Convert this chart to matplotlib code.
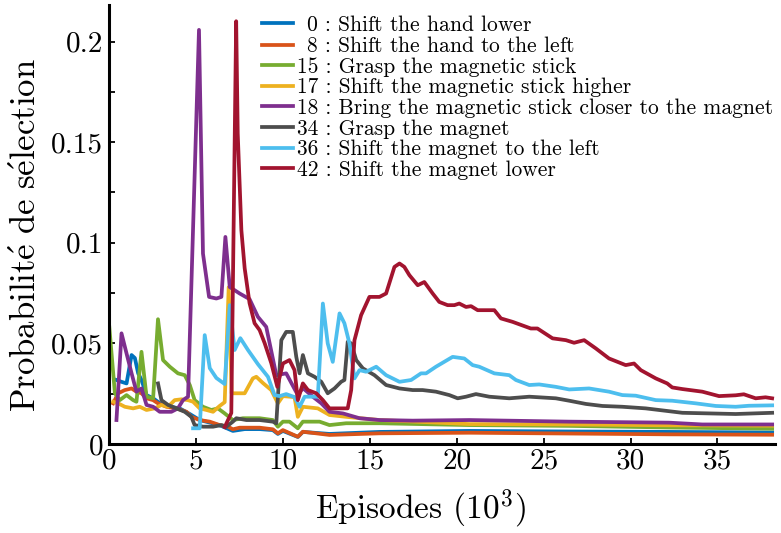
import matplotlib
matplotlib.use("Agg")
import matplotlib.pyplot as plt

plt.rcParams['font.family'] = 'serif'
plt.rcParams['font.serif'] = ['cmr10']
plt.rcParams['mathtext.fontset'] = 'cm'
plt.rcParams['axes.formatter.use_mathtext'] = True

# action 0 : shift the hand lower
x0 = [0.41, 0.70, 0.99, 1.28, 1.47, 1.66, 1.85, 2.14, 2.52, 2.90, 3.48, 4.05, 4.63, 5.20, 5.89,
      6.47, 7.11, 7.79, 8.65, 9.41, 9.70, 9.99, 10.85, 11.14, 12.67, 15.55, 20.72, 26.47, 32.21, 38.15]
y0 = [0.0318, 0.0309, 0.0301, 0.0442, 0.0427, 0.0351, 0.0318, 0.0243, 0.0227, 0.0203, 0.0185, 0.0177,
      0.0149, 0.0119, 0.0104, 0.0089, 0.0065, 0.0074, 0.0074, 0.0069, 0.0050, 0.0065, 0.0035, 0.0060,
      0.0050, 0.0060, 0.0065, 0.0062, 0.0060, 0.0057]

# action 8 : shift the hand to the left
x8 = [0.22, 0.51, 0.89, 1.28, 1.56, 1.85, 2.14, 2.52, 2.80, 3.29, 3.86, 4.44, 4.72, 5.20, 5.78,
      6.35, 6.83, 7.11, 7.50, 8.65, 9.41, 9.70, 9.99, 10.85, 11.14, 12.67, 15.55, 20.72, 26.47, 32.21, 38.15]
y8 = [0.0202, 0.0252, 0.0268, 0.0276, 0.0260, 0.0252, 0.0227, 0.0218, 0.0202, 0.0185, 0.0177, 0.0160,
      0.0135, 0.0119, 0.0111, 0.0094, 0.0086, 0.0073, 0.0081, 0.0081, 0.0073, 0.0053, 0.0069, 0.0036,
      0.0061, 0.0045, 0.0053, 0.0056, 0.0052, 0.0048, 0.0046]

# action 15 : grasp the magnetic stick
x15 = [0.0, 0.32, 0.60, 0.99, 1.37, 1.56, 1.85, 2.14, 2.52, 2.80, 3.09, 3.48, 3.95, 4.34, 4.63, 4.91,
       5.39, 5.87, 6.25, 6.64, 7.11, 7.69, 8.65, 9.41, 9.70, 9.99, 10.37, 10.85, 11.14, 12.10, 12.67,
       13.63, 15.55, 20.72, 26.47, 32.21, 38.15]
y15 = [0.058, 0.0252, 0.0218, 0.0243, 0.0218, 0.0210, 0.0458, 0.0235, 0.0227, 0.062, 0.0417, 0.0384,
       0.0351, 0.0342, 0.0293, 0.0218, 0.0185, 0.0169, 0.0177, 0.0152, 0.0119, 0.0128, 0.0128, 0.0119,
       0.0086, 0.0111, 0.0111, 0.0078, 0.0111, 0.0111, 0.0094, 0.0103, 0.0103, 0.0094, 0.0090, 0.0082,
       0.0076]

# action 17 : shift the magnetic stick higher
x17 = [0.22, 0.51, 0.89, 1.37, 1.75, 2.14, 2.61, 3.00, 3.38, 3.76, 4.15, 4.53, 4.82, 5.20, 5.59, 5.97,
       6.35, 6.64, 6.87, 7.04, 7.79, 8.26, 8.46, 8.84, 9.32, 9.70, 9.99, 10.66, 10.85, 11.14, 12.00,
       12.67, 13.63, 15.55, 20.72, 26.47, 32.21, 38.15]
y17 = [0.0210, 0.0202, 0.0185, 0.0177, 0.0185, 0.0169, 0.0177, 0.0194, 0.0185, 0.0218, 0.0222, 0.0218,
       0.0210, 0.0177, 0.0169, 0.0160, 0.0189, 0.0208, 0.0779, 0.0252, 0.0252, 0.0326, 0.0334, 0.0303,
       0.0268, 0.0202, 0.0238, 0.0233, 0.0135, 0.0185, 0.0177, 0.0144, 0.0135, 0.0119, 0.0099, 0.0097,
       0.0093, 0.0091]

# action 18 : bring the magnetic stick closer to the magnet
x18 = [0.41, 0.70, 0.99, 1.28, 1.56, 1.85, 2.14, 2.52, 2.90, 3.57, 3.95, 4.24, 4.53, 5.16, 5.39, 5.74,
       6.16, 6.45, 6.68, 6.93, 7.50, 8.07, 8.55, 9.03, 9.61, 10.18, 10.85, 11.14, 11.71, 12.20, 12.67,
       13.44, 14.40, 15.55, 17.46, 20.72, 26.46, 32.21, 34.13, 38.15]
y18 = [0.0119, 0.055, 0.0450, 0.0351, 0.0260, 0.0276, 0.0194, 0.0185, 0.0160, 0.0160, 0.0177, 0.0218,
       0.0235, 0.2058, 0.0946, 0.0731, 0.0723, 0.0731, 0.1029, 0.0780, 0.0748, 0.0720, 0.0632, 0.0582,
       0.0342, 0.0351, 0.0243, 0.0278, 0.0235, 0.0202, 0.0160, 0.0152, 0.0128, 0.0119, 0.0116, 0.0119,
       0.0111, 0.0106, 0.0097, 0.0097]

# action 34 : grasp the magnet
x34 = [2.80, 3.00, 3.38, 3.86, 4.34, 4.72, 4.91, 5.39, 5.97, 6.45, 6.74, 7.11, 7.31, 7.89, 8.65, 9.41,
       9.61, 9.90, 10.18, 10.56, 10.76, 10.95, 11.14, 11.43, 11.81, 12.20, 12.57, 12.96, 13.34, 13.53,
       13.72, 13.92, 14.21, 14.59, 15.26, 15.93, 16.70, 17.46, 18.03, 18.80, 19.57, 20.05, 20.53, 21.10,
       21.87, 23.02, 24.17, 25.70, 26.47, 27.43, 28.38, 29.53, 30.87, 32.02, 32.98, 34.51, 36.05, 38.15]
y34 = [0.0301, 0.0218, 0.0194, 0.0177, 0.0160, 0.0135, 0.0094, 0.0086, 0.0086, 0.0094, 0.0086, 0.0111,
       0.0128, 0.0119, 0.0119, 0.0111, 0.0103, 0.0516, 0.0557, 0.0557, 0.0433, 0.0351, 0.0442, 0.0351,
       0.0334, 0.0309, 0.0252, 0.0276, 0.0309, 0.0318, 0.0508, 0.0500, 0.0417, 0.0376, 0.0342, 0.0293,
       0.0276, 0.0268, 0.0268, 0.0260, 0.0243, 0.0227, 0.0235, 0.0248, 0.0235, 0.0227, 0.0235, 0.0227,
       0.0215, 0.0199, 0.0189, 0.0185, 0.0177, 0.0165, 0.0155, 0.0152, 0.0149, 0.0155]

# action 36 : shift the magnet to the left
x36 = [4.82, 5.20, 5.49, 5.78, 6.16, 6.64, 6.93, 7.21, 7.54, 7.98, 8.55, 9.13, 9.51, 9.80, 10.18, 10.66,
       10.95, 11.24, 12.00, 12.29, 12.57, 12.86, 13.25, 13.53, 13.82, 14.11, 14.40, 14.78, 15.36, 15.93,
       16.70, 17.37, 17.94, 18.23, 18.80, 19.76, 20.43, 20.91, 21.29, 22.16, 23.02, 23.40, 24.17, 24.74,
       25.70, 26.47, 27.61, 28.76, 29.53, 30.30, 31.45, 32.40, 33.75, 34.90, 36.05, 36.81, 38.15]
y36 = [0.0078, 0.0078, 0.0541, 0.0377, 0.0328, 0.0298, 0.0690, 0.0467, 0.0526, 0.0467, 0.0397, 0.0334,
       0.0243, 0.0238, 0.0248, 0.0233, 0.0185, 0.0235, 0.0235, 0.0698, 0.0500, 0.0408, 0.0649, 0.0600,
       0.0500, 0.0326, 0.0367, 0.0359, 0.0384, 0.0342, 0.0309, 0.0318, 0.0351, 0.0351, 0.0384, 0.0433,
       0.0425, 0.0392, 0.0384, 0.0351, 0.0342, 0.0318, 0.0293, 0.0296, 0.0284, 0.0271, 0.0276, 0.0260,
       0.0243, 0.0240, 0.0218, 0.0215, 0.0202, 0.0189, 0.0185, 0.0190, 0.0192]

# action 42 : shift the magnet lower
x42 = [6.64, 7.02, 7.30, 7.39, 7.60, 7.79, 8.07, 8.36, 8.65, 8.94, 9.32, 9.67, 9.99, 10.37, 10.66, 10.85,
       11.14, 11.43, 11.91, 12.29, 12.67, 13.25, 13.72, 13.92, 14.11, 14.49, 14.97, 15.55, 15.93, 16.41,
       16.70, 16.98, 17.27, 17.75, 18.13, 18.61, 18.99, 19.47, 19.86, 20.14, 20.53, 20.82, 21.20, 22.16,
       22.54, 23.21, 24.26, 24.64, 25.51, 26.28, 26.75, 27.33, 28.00, 28.76, 29.72, 30.20, 30.59, 31.45,
       32.11, 32.40, 32.98, 34.13, 35.09, 36.05, 36.52, 37.20, 37.77, 38.15]
y42 = [0.0084, 0.0154, 0.2101, 0.1543, 0.1062, 0.0873, 0.0700, 0.0600, 0.0566, 0.0501, 0.0402, 0.0284,
       0.0400, 0.0417, 0.0367, 0.0218, 0.0301, 0.0268, 0.0252, 0.0218, 0.0177, 0.0177, 0.0177, 0.0268,
       0.0516, 0.0640, 0.0731, 0.0731, 0.0748, 0.0880, 0.0897, 0.0880, 0.0839, 0.0789, 0.0805, 0.0748,
       0.0706, 0.0690, 0.0690, 0.0698, 0.0681, 0.0685, 0.0665, 0.0665, 0.0624, 0.0607, 0.0574, 0.0574,
       0.0525, 0.0516, 0.0503, 0.0516, 0.0475, 0.0425, 0.0392, 0.0400, 0.0367, 0.0326, 0.0301, 0.0281,
       0.0273, 0.0260, 0.0238, 0.0242, 0.0247, 0.0227, 0.0232, 0.0227]

labels = [r'$\ \,$0 : Shift the hand lower',
          r'$\ \,$8 : Shift the hand to the left',
          '15 : Grasp the magnetic stick',
          '17 : Shift the magnetic stick higher',
          '18 : Bring the magnetic stick closer to the magnet',
          '34 : Grasp the magnet',
          '36 : Shift the magnet to the left',
          '42 : Shift the magnet lower']
colors = ['#0072BD', '#D95319', '#77AC30', '#EDB120', '#7E2F8E', '#4D4D4D', '#4DBEEE', '#A2142F']
xs = [x0, x8, x15, x17, x18, x34, x36, x42]
ys = [y0, y8, y15, y17, y18, y34, y36, y42]

fig = plt.figure(figsize=(7.81, 5.33), dpi=100)
ax = fig.add_axes([0.140, 0.167, 0.852, 0.823])

for x, y, c, lab in zip(xs, ys, colors, labels):
    ax.plot(x, y, color=c, lw=2.7, label=lab, solid_joinstyle='round')

ax.set_xlim(0, 38.3)
ax.set_ylim(0, 0.218)
ax.set_xticks([0, 5, 10, 15, 20, 25, 30, 35])
ax.set_xticklabels(['0', '5', '10', '15', '20', '25', '30', '35'])
ax.set_yticks([0, 0.05, 0.1, 0.15, 0.2])
ax.set_yticklabels(['0', '0.05', '0.1', '0.15', '0.2'])
ax.set_yticks([0.025, 0.075, 0.125, 0.175], minor=True)
ax.tick_params(axis='both', which='both', direction='in', width=1.3, length=4, labelsize=21)
ax.tick_params(axis='y', which='both', pad=4.5)
ax.tick_params(axis='x', which='both', pad=3)

for s in ['top', 'right']:
    ax.spines[s].set_visible(False)
for s in ['left', 'bottom']:
    ax.spines[s].set_linewidth(2.2)

ax.set_xlabel(r'Episodes ($10^3$)', fontsize=24)
ax.set_ylabel(r'$\mathrm{Probabilit\acute{e}\ de\ s\acute{e}lection}$', fontsize=25)
ax.xaxis.set_label_coords(0.468, -0.10)
ax.yaxis.set_label_coords(-0.100, 0.476)

ax.legend(loc='upper left', bbox_to_anchor=(0.230, 0.978), frameon=False, fontsize=15.5,
          handlelength=1.4, handletextpad=0.2, labelspacing=0.05, borderpad=0, borderaxespad=0)

fig.savefig('out.png', dpi=100)
